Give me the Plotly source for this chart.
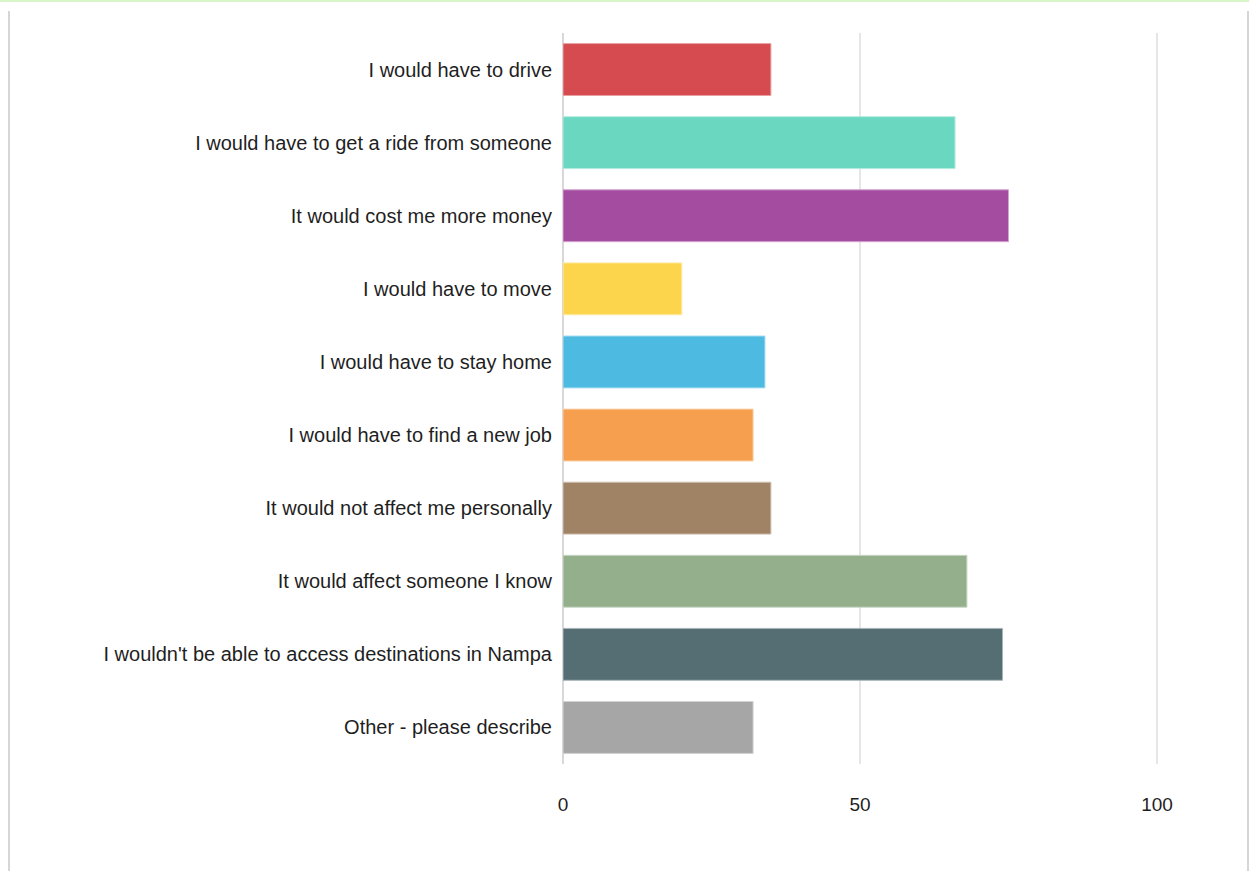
import plotly.graph_objects as go

categories = [
    "I would have to drive",
    "I would have to get a ride from someone",
    "It would cost me more money",
    "I would have to move",
    "I would have to stay home",
    "I would have to find a new job",
    "It would not affect me personally",
    "It would affect someone I know",
    "I wouldn't be able to access destinations in Nampa",
    "Other - please describe",
]
values = [35, 66, 75, 20, 34, 32, 35, 68, 74, 32]
colors = ["#D64B4F", "#6AD8C0", "#A34CA0", "#FDD54C", "#4DBAE2",
          "#F59F4F", "#A08265", "#93AF8B", "#546E74", "#A6A6A6"]
border_colors = ["#E8A0A2", "#B0ECDE", "#D5A2D2", "#FEEAA5", "#A5DCF0",
                 "#FACFA6", "#CFC0B1", "#C9D7C5", "#A9B6B9", "#D2D2D2"]
x_ticks = [0, 50, 100]

W, H = 1249, 871
L, R, T, B = 563, 21, 33, 107
pw, ph = W - L - R, H - T - B

def px_x(p):
    return (p - L) / pw

def px_y(p):
    return (H - B - p) / ph

fig = go.Figure(go.Bar(
    y=categories,
    x=values,
    orientation="h",
    marker=dict(color=colors, line=dict(color=border_colors, width=1)),
    width=0.71,
    hoverinfo="x+y",
))

fig.update_layout(
    width=W, height=H,
    margin=dict(l=L, r=R, t=T, b=B),
    paper_bgcolor="white",
    plot_bgcolor="white",
    showlegend=False,
    font=dict(family="Liberation Sans, Arial, sans-serif", color="#1f1f1f"),
    xaxis=dict(
        range=[0, pw / 5.94],
        tickvals=x_ticks,
        ticktext=[str(v) for v in x_ticks],
        showgrid=True, gridcolor="#e6e6e6", gridwidth=2,
        zeroline=True, zerolinecolor="#d8d8d8", zerolinewidth=2,
        showline=False, ticks="",
        tickfont=dict(size=19, color="#1f1f1f"),
        ticklabelstandoff=27,
        fixedrange=True,
    ),
    yaxis=dict(
        categoryorder="array",
        categoryarray=categories[::-1],
        range=[-0.5, len(categories) - 0.5],
        showgrid=False, zeroline=False, showline=False, ticks="",
        tickfont=dict(size=20, color="#1f1f1f"),
        ticklabelstandoff=10,
        fixedrange=True,
    ),
    shapes=[
        dict(type="line", xref="paper", yref="paper",
             x0=px_x(0), x1=px_x(W), y0=px_y(1), y1=px_y(1),
             line=dict(color="#d8f5c8", width=2)),
        dict(type="line", xref="paper", yref="paper",
             x0=px_x(9), x1=px_x(9), y0=px_y(11), y1=px_y(H),
             line=dict(color="#d6d6d6", width=2)),
        dict(type="line", xref="paper", yref="paper",
             x0=px_x(1248), x1=px_x(1248), y0=px_y(11), y1=px_y(H),
             line=dict(color="#d6d6d6", width=2)),
    ],
)

fig.write_html("out.html", config={"displayModeBar": False})
